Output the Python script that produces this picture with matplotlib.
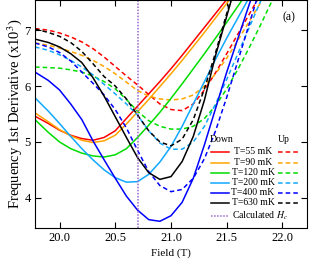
import matplotlib
matplotlib.use("Agg")
import matplotlib.pyplot as plt

plt.rcParams["font.family"] = ["Liberation Serif", "DejaVu Serif"]
plt.rcParams["mathtext.fontset"] = "stix"

# === Data (field in T, values in x10^3) ===
field = [19.78, 19.9, 20.0, 20.1, 20.2, 20.3, 20.4, 20.5, 20.6, 20.7, 20.8, 20.9,
         21.0, 21.1, 21.2, 21.3, 21.4, 21.5, 21.6, 21.7, 21.8, 21.9, 22.0]

temps = ["T=55 mK", "T=90 mK", "T=120 mK", "T=200 mK", "T=400 mK", "T=630 mK"]
colors = ["#ff0000", "#ffa500", "#00dd00", "#11a8ff", "#0000ff", "#000000"]

down_55 = [5.46, 5.33, 5.21, 5.12, 5.06, 5.03, 5.08, 5.20, 5.42, 5.64, 5.86, 6.08,
           6.31, 6.55, 6.80, 7.05, 7.30, 7.55, 7.80, 8.05, 8.30, 8.55, 8.80]
down_90 = [5.52, 5.36, 5.22, 5.11, 5.03, 4.99, 5.02, 5.12, 5.32, 5.54, 5.76, 5.99,
           6.22, 6.46, 6.71, 6.96, 7.22, 7.48, 7.75, 8.00, 8.30, 8.60, 8.90]
down_120 = [5.40, 5.17, 5.00, 4.88, 4.80, 4.75, 4.73, 4.77, 4.88, 5.08, 5.30, 5.53,
            5.78, 6.04, 6.31, 6.58, 6.86, 7.14, 7.43, 7.72, 8.00, 8.30, 8.60]
down_200 = [5.79, 5.55, 5.33, 5.10, 4.88, 4.68, 4.50, 4.36, 4.28, 4.29, 4.42, 4.64,
            4.92, 5.28, 5.68, 6.08, 6.48, 6.86, 7.22, 7.58, 7.95, 8.30, 8.70]
down_400 = [6.25, 6.10, 5.93, 5.68, 5.40, 5.02, 4.68, 4.35, 4.03, 3.78, 3.61, 3.58,
            3.68, 3.92, 4.35, 4.95, 5.60, 6.25, 6.85, 7.45, 8.05, 8.60, 9.20]
down_630 = [6.84, 6.78, 6.70, 6.58, 6.42, 6.15, 5.82, 5.45, 5.08, 4.72, 4.45, 4.33,
            4.38, 4.65, 5.10, 5.75, 6.55, 7.25, 7.95, 8.60, 9.30, 10.0, 10.7]

up_55 = [7.03, 7.00, 6.95, 6.88, 6.79, 6.67, 6.52, 6.35, 6.18, 6.02, 5.85, 5.68,
         5.58, 5.56, 5.68, 5.93, 6.24, 6.58, 6.93, 7.28, 7.63, 8.00, 8.35]
up_90 = [6.77, 6.73, 6.68, 6.62, 6.55, 6.46, 6.35, 6.22, 6.07, 5.92, 5.82, 5.77,
         5.75, 5.77, 5.84, 6.00, 6.22, 6.50, 6.82, 7.15, 7.48, 7.82, 8.15]
up_120 = [6.34, 6.33, 6.32, 6.29, 6.25, 6.18, 6.08, 5.95, 5.76, 5.55, 5.38, 5.28,
          5.23, 5.23, 5.28, 5.42, 5.65, 5.95, 6.30, 6.68, 7.08, 7.50, 7.90]
up_200 = [6.70, 6.64, 6.56, 6.46, 6.34, 6.20, 6.03, 5.86, 5.68, 5.48, 5.20, 4.98,
          4.87, 4.87, 5.00, 5.28, 5.68, 6.12, 6.58, 7.04, 7.50, 7.95, 8.40]
up_400 = [6.77, 6.70, 6.60, 6.45, 6.25, 6.05, 5.84, 5.58, 5.25, 4.85, 4.47, 4.22,
          4.11, 4.15, 4.35, 4.70, 5.20, 5.80, 6.45, 7.10, 7.75, 8.40, 9.00]
up_630 = [7.02, 6.96, 6.89, 6.78, 6.62, 6.40, 6.17, 6.00, 5.77, 5.48, 5.20, 5.00,
          4.93, 5.05, 5.40, 5.95, 6.60, 7.30, 8.00, 8.70, 9.40, 10.1, 10.8]

down_sweeps = [down_55, down_90, down_120, down_200, down_400, down_630]
up_sweeps = [up_55, up_90, up_120, up_200, up_400, up_630]

hc_calc = 20.70

# === Plot ===
fig = plt.figure(figsize=(3.09, 2.66), dpi=100)
ax = fig.add_axes([35 / 309, 1 - 228 / 266, 272 / 309, 228 / 266])

for col, dn, up in zip(colors, down_sweeps, up_sweeps):
    ax.plot(field, dn, color=col, lw=1.1)
    ax.plot(field, up, color=col, lw=1.1, dashes=(3, 2))

ax.axvline(hc_calc, color="#9966cc", lw=1.1, dashes=(1, 1))

ax.set_xlim(19.78, 22.22)
ax.set_ylim(3.46, 7.54)
ax.set_xticks([20.0, 20.5, 21.0, 21.5, 22.0])
ax.set_xticklabels(["20.0", "20.5", "21.0", "21.5", "22.0"])
ax.set_yticks([4, 5, 6, 7])
ax.tick_params(direction="in", top=True, right=True, length=4, width=0.8,
               labelsize=9, pad=3)
for sp in ax.spines.values():
    sp.set_linewidth(0.8)

ax.set_xlabel("Field (T)", fontsize=8, labelpad=3)
ax.set_ylabel("Frequency 1st Derivative (x10$^3$)", fontsize=10.5, labelpad=0)
ax.text(0.935, 0.925, "(a)", transform=ax.transAxes, fontsize=8.5,
        ha="center", va="center")

# === Hand-built legend (Down / Up columns) ===
def fx(px):
    return (px - 35) / 272

def fy(py):
    return (228 - py) / 228

ax.text(fx(210), fy(139), "Down", transform=ax.transAxes, fontsize=7,
        ha="left", va="center")
ax.text(fx(278), fy(139), "Up", transform=ax.transAxes, fontsize=7,
        ha="left", va="center")
rows = [152, 162.5, 172.5, 182.5, 192.5, 202.5]
for lab, col, py in zip(temps, colors, rows):
    ax.plot([fx(211), fx(229)], [fy(py), fy(py)], color=col, lw=1.1,
            transform=ax.transAxes)
    ax.plot([fx(278), fx(298)], [fy(py), fy(py)], color=col, lw=1.1,
            dashes=(3, 2), transform=ax.transAxes)
    ax.text(fx(253), fy(py), lab, transform=ax.transAxes, fontsize=7,
            ha="center", va="center")
ax.plot([fx(211), fx(229)], [fy(216), fy(216)], color="#9966cc", lw=1.1,
        dashes=(1, 1), transform=ax.transAxes)
ax.text(fx(232), fy(216), "Calculated $H_c$", transform=ax.transAxes,
        fontsize=7, ha="left", va="center")

fig.savefig("out.png", dpi=100)
